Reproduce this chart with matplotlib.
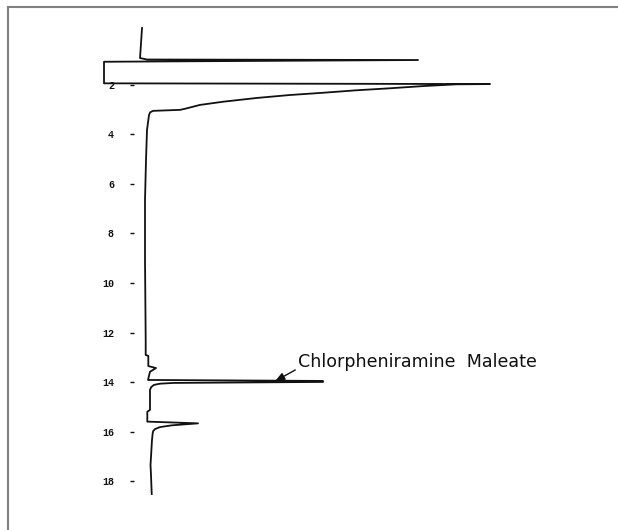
import matplotlib.pyplot as plt
from matplotlib.lines import Line2D

# Chromatogram trace (time in min, response in % of largest peak)
time_min = [-0.28, 0.93, 0.99, 1.01, 1.08, 1.95, 1.98, 1.99, 2.06, 2.15, 2.23, 2.33, 2.42, 2.54,
            2.69, 2.82, 2.96, 3.02, 3.06, 3.12, 3.23, 3.83, 5.04, 6.65, 9.07, 12.30, 12.90,
            12.94, 13.35, 13.43, 13.58, 13.91, 13.95, 13.99, 14.03, 14.06, 14.11, 14.20,
            14.31, 15.12, 15.19, 15.59, 15.66, 15.74, 15.81, 15.89, 15.97, 16.05, 16.33,
            17.34, 17.74, 18.51]
response = [-1.16, -1.74, 0.29, 79.07, -12.21, -12.21, 100.0, 90.3, 80.6, 70.9, 61.2, 51.5,
            41.9, 32.2, 22.5, 15.7, 11.8, 9.9, 2.03, 1.2, 0.87, 0.29, 0.0, -0.29, -0.29, -0.09,
            -0.09, 0.67, 0.67, 2.91, 1.16, 0.58, 51.45, 51.45, 8.0, 4.07, 2.3, 1.5,
            1.16, 1.16, 0.38, 0.38, 15.12, 7.5, 4.07, 2.62, 2.1,
            1.95, 1.74, 1.31, 1.45, 1.66]

tick_times = [2, 4, 6, 8, 10, 12, 14, 16, 18]
tick_labels = ['2', '4', '6', '8', '10', '12', '14', '16', '18']

peak_name = 'Chlorpheniramine  Maleate'
peak_time = 13.96
peak_arrow_resp = 37.5

W, H = 618, 530
fig = plt.figure(figsize=(W / 100, H / 100), dpi=100)
fig.patch.set_facecolor('white')

# axes starts where the tick dashes end
ax = fig.add_axes([134 / W, 0, 1 - 134 / W, 1])
ax.set_xlim(-3.49, 137.2)
ax.set_ylim(19.96, -1.41)

ax.plot(response, time_min, color='#111111', lw=1.3, clip_on=False, solid_joinstyle='round')

for s in ax.spines.values():
    s.set_visible(False)
ax.set_xticks([])
ax.set_yticks(tick_times)
ax.set_yticklabels(tick_labels, family='Liberation Mono', fontsize=7.2, fontweight='bold', color='#111111')
ax.tick_params(axis='y', direction='out', length=2.9, width=1.0, pad=11.5, color='#111111')
ax.set_facecolor('none')

# peak label with arrow
ax.annotate(peak_name, xy=(peak_arrow_resp, peak_time), xytext=(44.2, 13.19),
            ha='left', va='center', fontsize=12.6, family='DejaVu Sans', color='#111111',
            arrowprops=dict(arrowstyle='-|>,head_length=0.45,head_width=0.18', color='#111111',
                            lw=1.0, relpos=(0, 0.15), shrinkA=0, shrinkB=0))

# scanned page frame (top and left edges only)
fig.add_artist(Line2D([8 / W, 8 / W], [0, 1 - 7 / H], transform=fig.transFigure, color='#808080', lw=1.5))
fig.add_artist(Line2D([8 / W, 1], [1 - 7 / H, 1 - 7 / H], transform=fig.transFigure, color='#808080', lw=1.5))

fig.savefig('out.png', dpi=100)
